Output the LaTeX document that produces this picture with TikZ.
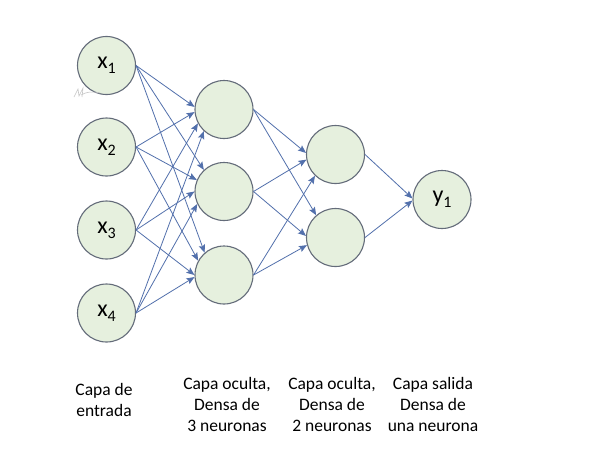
\documentclass[tikz,border=0pt]{standalone}
\usepackage{fontspec}
\setmainfont{Carlito}
\usetikzlibrary{arrows.meta}
\definecolor{nodefill}{RGB}{230,240,222}
\definecolor{nodeline}{RGB}{100,108,122}
\definecolor{edgecol}{RGB}{82,112,172}
\newcommand{\neu}[2]{#1\raisebox{-0.22em}{\fontsize{16}{16}\selectfont #2}}
\tikzset{
  neuron/.style={circle,draw=nodeline,fill=nodefill,line width=1.1pt,minimum size=58pt,inner sep=0pt,font=\fontsize{24}{24}\selectfont},
  conn/.style={draw=edgecol,line width=0.8pt,-{Stealth[length=8pt,width=6.5pt,inset=1.5pt]}},
  caption/.style={align=center,font=\fontsize{17.5}{21}\selectfont,text=black}
}
\begin{document}
\begin{tikzpicture}[x=1pt,y=-1pt]
\useasboundingbox (0,0) rectangle (593,460);
\fill[white] (0,0) rectangle (593,460);
% input layer
\node[neuron] (x1) at (106.5,65.5) {\neu{x}{1}};
\node[neuron] (x2) at (106.5,147) {\neu{x}{2}};
\node[neuron] (x3) at (106.5,230) {\neu{x}{3}};
\node[neuron] (x4) at (106.5,313) {\neu{x}{4}};
% hidden 1
\node[neuron] (h1) at (224,109.5) {};
\node[neuron] (h2) at (224,191.5) {};
\node[neuron] (h3) at (224,275) {};
% hidden 2
\node[neuron] (g1) at (335.5,154.5) {};
\node[neuron] (g2) at (335.5,237.5) {};
% output
\node[neuron] (y1) at (442,199.5) {\neu{y}{1}};
% edges input -> hidden 1
\draw[conn] (x1.east) -- (h1.175);
\draw[conn] (x2.east) -- (h1.185);
\draw[conn] (x3.east) -- (h1.208);
\draw[conn] (x4.east) -- (h1.227);
\draw[conn] (x1.east) -- (h2.133);
\draw[conn] (x2.east) -- (h2.157);
\draw[conn] (x3.east) -- (h2.180);
\draw[conn] (x4.east) -- (h2.205);
\draw[conn] (x1.east) -- (h3.131);
\draw[conn] (x2.east) -- (h3.151);
\draw[conn] (x3.east) -- (h3.180);
\draw[conn] (x4.east) -- (h3.184);
% hidden 1 -> hidden 2
\draw[conn] (h1.east) -- (g1.177);
\draw[conn] (h2.east) -- (g1.190);
\draw[conn] (h3.east) -- (g1.226);
\draw[conn] (h1.east) -- (g2.131);
\draw[conn] (h2.east) -- (g2.177);
\draw[conn] (h3.east) -- (g2.195);
% hidden 2 -> output
\draw[conn] (g1.east) -- (y1.178);
\draw[conn] (g2.east) -- (y1.182);
% faint signature mark
\draw[gray!45,line width=0.6pt] (74,97) -- (78,89) -- (79,96) -- (83,88) -- (82,97) (81,95) .. controls (86,92) and (92,91) .. (100,93);
% captions
\node[caption] (l1) at (104,400) {Capa de\\entrada};
\node[caption] (l2) at (227,404) {Capa oculta,\\Densa de\\3 neuronas};
\node[caption] (l3) at (332,404) {Capa oculta,\\Densa de\\2 neuronas};
\node[caption] (l4) at (433,404) {Capa salida\\Densa de\\una neurona};
\end{tikzpicture}
\end{document}
